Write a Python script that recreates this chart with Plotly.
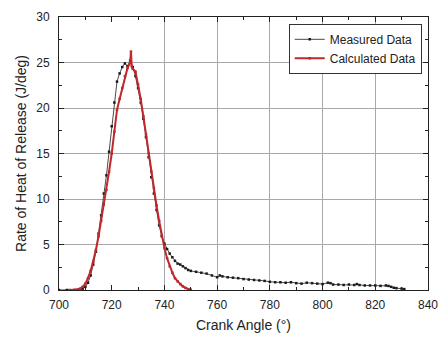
import plotly.graph_objects as go

# Measured heat release rate (J/deg) vs crank angle (deg)
meas_angle = [700, 703, 706, 708, 709, 710, 711, 712, 713, 714, 715, 716, 717, 718, 719, 720,
              721, 722, 723, 724, 725, 726, 727, 728, 729, 730, 731, 732, 733, 734, 735, 736,
              737, 738, 739, 740, 741, 742, 743, 744, 745, 746, 747, 748, 749, 750, 752, 754,
              756, 758, 760, 761, 762, 764, 766, 768, 770, 772, 774, 776, 778, 780, 782, 784,
              786, 788, 790, 792, 794, 796, 798, 800, 802, 803, 804, 806, 808, 810, 812, 813,
              814, 816, 818, 820, 822, 824, 825, 826, 827, 828, 830, 831]
meas_rohr = [0.0, 0.0, 0.0, 0.05, 0.15, 0.35, 0.8, 1.6, 2.8, 4.2, 6.2, 8.2, 10.6, 12.6, 15.2, 18.0,
             20.6, 22.9, 23.8, 24.5, 24.9, 24.6, 25.2, 24.5, 23.5, 22.2, 20.6, 18.8, 16.8, 14.6, 12.4, 10.6,
             8.8, 7.1, 5.9, 5.1, 4.5, 4.0, 3.6, 3.2, 2.9, 2.8, 2.6, 2.4, 2.2, 2.1, 2.0, 1.9,
             1.8, 1.6, 1.4, 1.6, 1.5, 1.4, 1.35, 1.3, 1.2, 1.15, 1.1, 1.05, 1.0, 0.9, 0.85, 0.85,
             0.8, 0.85, 0.75, 0.7, 0.8, 0.75, 0.7, 0.65, 0.8, 0.75, 0.6, 0.6, 0.55, 0.6, 0.55, 0.65,
             0.55, 0.5, 0.5, 0.5, 0.45, 0.5, 0.45, 0.35, 0.25, 0.2, 0.15, 0.1]

# Calculated heat release rate (J/deg) vs crank angle (deg)
calc_angle = [704, 706, 707, 708, 709, 710, 711, 712, 713, 714, 715, 716, 717, 718, 719, 720,
              721, 722, 723, 724, 725, 726, 727, 727.3, 727.6, 728, 729, 730, 731, 732, 733, 734,
              735, 736, 737, 738, 739, 740, 741, 742, 743, 744, 745, 746, 747, 748, 749, 750]
calc_rohr = [0.0, 0.0, 0.05, 0.15, 0.35, 0.7, 1.3, 2.1, 3.1, 4.4, 5.9, 7.6, 9.4, 11.0, 13.0, 15.0,
             17.4, 19.8, 21.0, 22.2, 23.5, 24.4, 25.0, 26.2, 24.6, 24.3, 24.0, 22.6, 21.0, 19.1, 17.1, 15.0,
             13.0, 11.2, 9.3, 7.6, 6.0, 4.6, 3.5, 2.6, 1.9, 1.3, 0.95, 0.65, 0.4, 0.22, 0.1, 0.03]

x_ticks = [700, 720, 740, 760, 780, 800, 820, 840]
x_grid = [740, 760, 780, 800, 820]
y_ticks = [0, 5, 10, 15, 20, 25, 30]

font_family = "Liberation Sans, Arial, sans-serif"
grid_col = "#a8a8a8"
ink = "#222222"

fig = go.Figure()

fig.add_trace(go.Scatter(
    x=meas_angle, y=meas_rohr, mode="lines+markers", name="Measured Data",
    line=dict(color="#1a1a1a", width=0.8),
    marker=dict(color="#1a1a1a", size=2.5, symbol="square"),
))
fig.add_trace(go.Scatter(
    x=calc_angle, y=calc_rohr, mode="lines+markers", name="Calculated Data",
    line=dict(color="#c0282c", width=2),
    marker=dict(color="#c0282c", size=2.5, symbol="square"),
))

# transparent helper trace on an overlay axis that only carries vertical grid lines
fig.add_trace(go.Scatter(x=[700, 840], y=[0, 0], xaxis="x2", mode="lines",
                         line=dict(width=0), showlegend=False, hoverinfo="skip"))

fig.update_layout(
    width=448, height=340,
    margin=dict(l=59, r=10, t=10, b=48),
    paper_bgcolor="white", plot_bgcolor="white",
    font=dict(family=font_family, color=ink, size=12),
    showlegend=True,
    legend=dict(
        x=0.983, y=0.975, xanchor="right", yanchor="top",
        bordercolor="#333333", borderwidth=1, bgcolor="white",
        font=dict(size=12, color=ink),
        tracegroupgap=0, itemwidth=30,
    ),
    xaxis=dict(
        range=[700, 840], tickvals=x_ticks, showgrid=False,
        ticks="inside", ticklen=5, tickcolor=ink, ticklabelstandoff=4,
        showline=True, linecolor=ink, linewidth=1, mirror="ticks",
        minor=dict(dtick=10, ticklen=3, ticks="inside", tickcolor=ink, showgrid=False),
        zeroline=False,
        title=dict(text="Crank Angle (°)", font=dict(size=14), standoff=8),
        tickfont=dict(size=12),
    ),
    xaxis2=dict(
        overlaying="x", range=[700, 840], tickvals=x_grid, showgrid=True,
        gridcolor=grid_col, gridwidth=1, showticklabels=False, ticks="",
        showline=False, zeroline=False, layer="below traces",
    ),
    yaxis=dict(
        range=[0, 30], tickvals=y_ticks, showgrid=True, gridcolor=grid_col, gridwidth=1,
        ticks="inside", ticklen=5, tickcolor=ink, ticklabelstandoff=6,
        showline=True, linecolor=ink, linewidth=1, mirror="ticks",
        minor=dict(dtick=2.5, ticklen=3, ticks="inside", tickcolor=ink, showgrid=False),
        zeroline=False,
        title=dict(text="Rate of Heat of Release (J/deg)", font=dict(size=14), standoff=6),
        tickfont=dict(size=12),
    ),
)

fig.write_html("out.html")
